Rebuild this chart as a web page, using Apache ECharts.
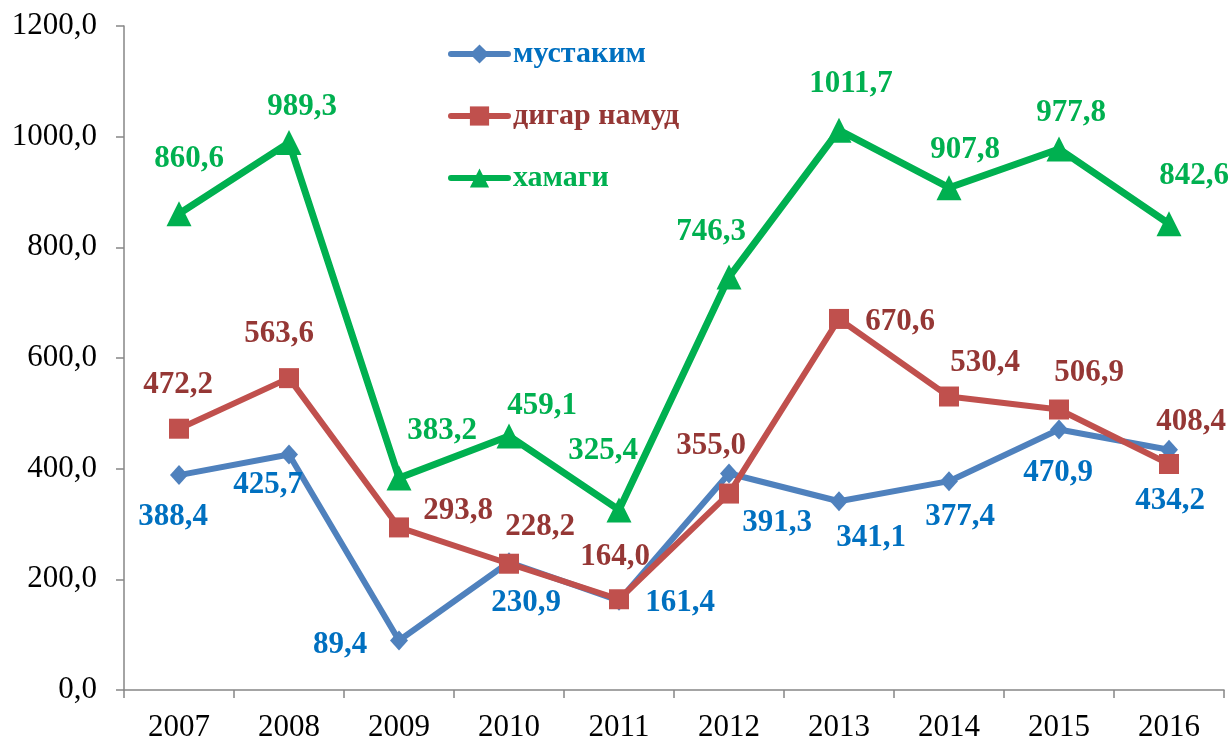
<!DOCTYPE html>
<html lang="ru" style="height: 100%">
<head>
  <meta charset="utf-8">
</head>
<body style="height: 100%; margin: 0; background: #fff">
  <div id="container" style="width: 1232px; height: 740px"></div>

  <script type="text/javascript" src="https://cdn.jsdelivr.net/npm/echarts@6/dist/echarts.min.js"></script>

  <script type="text/javascript">
    var dom = document.getElementById('container');
    var myChart = echarts.init(dom, null, { renderer: 'canvas' });

    const years = ['2007', '2008', '2009', '2010', '2011', '2012', '2013', '2014', '2015', '2016'];
    const mustakim = [388.4, 425.7, 89.4, 230.9, 161.4, 391.3, 341.1, 377.4, 470.9, 434.2];
    const digarNamud = [472.2, 563.6, 293.8, 228.2, 164.0, 355.0, 670.6, 530.4, 506.9, 408.4];
    const hamagi = [860.6, 989.3, 383.2, 459.1, 325.4, 746.3, 1011.7, 907.8, 977.8, 842.6];

    // where each value label sits, relative to its marker
    const offBlue = [[-6, 42], [-21, 31], [-59, 4], [17, 41], [61, 2], [48, 50], [32, 37], [11, 36], [-1, 44], [1, 51]];
    const offRed = [[-1, -44], [-10, -44], [59, -16], [31, -37], [-4, -42], [-18, -48], [61, 3], [36, -34], [30, -37], [22, -42]];
    const offGreen = [[10, -55], [13, -36], [43, -47], [33, -30], [-16, -59], [-18, -45], [12, -46], [16, -38], [12, -36], [25, -48]];

    const serif = "'Liberation Serif', 'Times New Roman', serif";

    function fmt(v) {
      return v.toFixed(1).replace('.', ',');
    }

    function makeData(values, offsets, color) {
      return values.map(function (v, i) {
        return {
          value: v,
          label: {
            show: true,
            position: 'inside',
            offset: offsets[i],
            color: color,
            fontFamily: serif,
            fontWeight: 'bold',
            fontSize: 31,
            formatter: function (p) { return fmt(p.value); }
          }
        };
      });
    }

    function makeSeries(name, values, offsets, lineColor, textColor, symbol, size, width) {
      return {
        name: name,
        type: 'line',
        data: makeData(values, offsets, textColor),
        symbol: symbol,
        symbolSize: size,
        showAllSymbol: true,
        lineStyle: { color: lineColor, width: width },
        itemStyle: { color: lineColor },
        emphasis: { disabled: true },
        animation: false
      };
    }

    var option = {
      backgroundColor: '#fff',
      grid: { left: 124, right: 8, top: 26, bottom: 50, outerBoundsMode: 'none' },
      legend: {
        orient: 'vertical',
        left: 443,
        top: 34,
        itemWidth: 57,
        itemHeight: 24,
        itemGap: 32,
        lineStyle: { width: 6, cap: 'round' },
        textStyle: {
          fontFamily: serif,
          fontWeight: 'bold',
          fontSize: 30,
          lineHeight: 30
        },
        data: [
          { name: 'мустаким', textStyle: { color: '#0070C0' } },
          { name: 'дигар намуд', textStyle: { color: '#953735' } },
          { name: 'хамаги', textStyle: { color: '#00B050' } }
        ]
      },
      xAxis: {
        type: 'category',
        data: years,
        boundaryGap: true,
        axisLine: { lineStyle: { color: '#868686', width: 1.5 } },
        axisTick: { show: true, length: 8, lineStyle: { color: '#868686', width: 1.5 } },
        axisLabel: { color: '#000', fontFamily: serif, fontSize: 31, margin: 22 }
      },
      yAxis: {
        type: 'value',
        min: 0,
        max: 1200,
        interval: 200,
        splitLine: { show: false },
        axisLine: { show: true, lineStyle: { color: '#868686', width: 1.5 } },
        axisTick: { show: true, length: 8, lineStyle: { color: '#868686', width: 1.5 } },
        axisLabel: {
          color: '#000',
          fontFamily: serif,
          fontSize: 31,
          margin: 27,
          formatter: function (v) { return fmt(v); }
        }
      },
      series: [
        makeSeries('мустаким', mustakim, offBlue, '#4F81BD', '#0070C0', 'diamond', [18, 20], 6),
        makeSeries('дигар намуд', digarNamud, offRed, '#C0504D', '#953735', 'rect', 20, 6),
        makeSeries('хамаги', hamagi, offGreen, '#00B050', '#00B050', 'triangle', [25, 25], 7)
      ]
    };

    myChart.setOption(option);
    window.addEventListener('resize', myChart.resize);
  </script>
</body>
</html>
